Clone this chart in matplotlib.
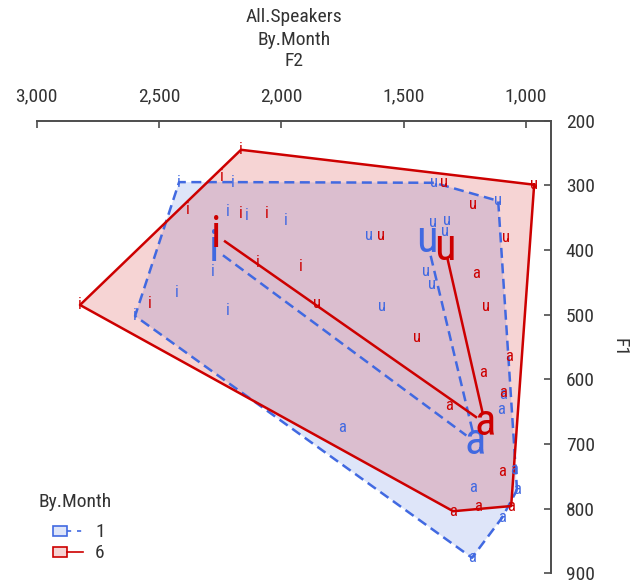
import matplotlib.pyplot as plt
import numpy as np
from matplotlib.patches import Polygon, Rectangle

# fonts: narrow sans like the reference
narrow = ['Roboto Condensed', 'Liberation Sans Narrow', 'Roboto', 'DejaVu Sans']
plt.rcParams['font.family'] = narrow

# ---- data (Hz) ----
vowels = ['i', 'u', 'a']
months = ['1', '6']

# month 1
i1_f2 = [2418, 2198, 2218, 2140, 1981, 2279, 2427, 2598, 2218]
i1_f1 = [295, 295, 341, 346, 355, 434, 466, 502, 494]
u1_f2 = [1376, 1114, 1380, 1323, 1331, 1642, 1409, 1384, 1589]
u1_f1 = [296, 324, 358, 354, 371, 377, 434, 453, 488]
a1_f2 = [1752, 1094, 1102, 1049, 1037, 1217, 1098, 1221]
a1_f1 = [674, 624, 646, 740, 771, 767, 814, 876]
mean1_f2 = [2275, 1405, 1208]
mean1_f1 = [398, 385, 697]

# month 6
i6_f2 = [2165, 2243, 2382, 2165, 2059, 2095, 1920, 2823, 2537]
i6_f1 = [245, 287, 338, 343, 343, 420, 426, 485, 482]
u6_f2 = [1335, 967, 1217, 1593, 1082, 1163, 1446, 1854]
u6_f1 = [296, 299, 329, 378, 381, 487, 535, 482]
a6_f2 = [1204, 1069, 1176, 1094, 1315, 1098, 1061, 1196, 1298]
a6_f1 = [436, 565, 590, 620, 641, 743, 796, 797, 804]
mean6_f2 = [2267, 1331, 1168]
mean6_f1 = [377, 397, 668]

x_ticks = [3000, 2500, 2000, 1500, 1000]
x_labels = ['3,000', '2,500', '2,000', '1,500', '1,000']
y_ticks = [200, 300, 400, 500, 600, 700, 800, 900]

blue = '#4169E1'
red = '#CD0000'
axis_col = '#4d4d4d'


def hull(x, y):
    pts = sorted(set(zip(x, y)))

    def cross(o, a, b):
        return (a[0] - o[0]) * (b[1] - o[1]) - (a[1] - o[1]) * (b[0] - o[0])
    lower, upper = [], []
    for p in pts:
        while len(lower) >= 2 and cross(lower[-2], lower[-1], p) <= 0:
            lower.pop()
        lower.append(p)
    for p in reversed(pts):
        while len(upper) >= 2 and cross(upper[-2], upper[-1], p) <= 0:
            upper.pop()
        upper.append(p)
    return lower[:-1] + upper[:-1]


def trimmed(ax, p0, p1, gap=11):
    d0 = ax.transData.transform(p0)
    d1 = ax.transData.transform(p1)
    v = d1 - d0
    u = v / np.hypot(*v)
    inv = ax.transData.inverted()
    return inv.transform([d0 + u * gap, d1 - u * gap])


fig = plt.figure(figsize=(6.4, 5.83), dpi=100)
ax = fig.add_axes([0.05734, 0.016638, 0.8029, 0.77633])
ax.set_xlim(3000, 900)
ax.set_ylim(900, 200)

for s in ['left', 'bottom']:
    ax.spines[s].set_visible(False)
for s in ['top', 'right']:
    ax.spines[s].set_color(axis_col)
    ax.spines[s].set_linewidth(1.4)
ax.xaxis.tick_top()
ax.yaxis.tick_right()
ax.set_xticks(x_ticks)
ax.set_xticklabels(x_labels)
ax.set_yticks(y_ticks)
ax.tick_params(direction='in', length=5, width=1.2, color=axis_col,
               labelsize=14, labelcolor='#333333', pad=11)

groups = [
    (blue, '--', [(i1_f2, i1_f1), (u1_f2, u1_f1), (a1_f2, a1_f1)], mean1_f2, mean1_f1),
    (red, '-', [(i6_f2, i6_f1), (u6_f2, u6_f1), (a6_f2, a6_f1)], mean6_f2, mean6_f1),
]
lw = 1.8
dash = (4.0, 2.2)

# fills
for col, ls, toks, mf2, mf1 in groups:
    allx = sum([t[0] for t in toks], [])
    ally = sum([t[1] for t in toks], [])
    h = hull(allx, ally)
    ax.add_patch(Polygon(h, closed=True, facecolor=col, alpha=0.17,
                         edgecolor='none', zorder=1))

# hull outlines and mean lines
for col, ls, toks, mf2, mf1 in groups:
    allx = sum([t[0] for t in toks], [])
    ally = sum([t[1] for t in toks], [])
    h = hull(allx, ally)
    hx = [p[0] for p in h] + [h[0][0]]
    hy = [p[1] for p in h] + [h[0][1]]
    line, = ax.plot(hx, hy, color=col, lw=lw, ls=ls, zorder=2)
    if ls == '--':
        line.set_dashes(dash)
    # i -> a -> u
    for k0, k1 in [(0, 2), (2, 1)]:
        seg = trimmed(ax, (mf2[k0], mf1[k0]), (mf2[k1], mf1[k1]))
        l2, = ax.plot(seg[:, 0], seg[:, 1], color=col, lw=lw, ls=ls, zorder=3)
        if ls == '--':
            l2.set_dashes(dash)

# tokens
for col, ls, toks, mf2, mf1 in groups:
    for v, (tx, ty) in zip(vowels, toks):
        for x, y in zip(tx, ty):
            ax.text(x, y, v, color=col, fontsize=12, ha='center', va='center',
                    zorder=4)

# means
for col, ls, toks, mf2, mf1 in groups:
    for v, x, y in zip(vowels, mf2, mf1):
        ax.text(x, y, v, color=col, fontsize=32, ha='center', va='center',
                zorder=5)

# titles
cx = (36.7 + 550.5) / 2 / 640
fig.text(cx, 1 - 17 / 583, 'All.Speakers', ha='center', va='center',
         fontsize=14, color='#333333')
fig.text(cx, 1 - 40 / 583, 'By.Month', ha='center', va='center',
         fontsize=14, color='#333333')
fig.text(cx, 1 - 61 / 583, 'F2', ha='center', va='center',
         fontsize=14, color='#333333')
fig.text(620 / 640, 1 - 347 / 583, 'F1', ha='center', va='center',
         rotation=-90, fontsize=14, color='#333333')

# legend drawn in pixel space
lax = fig.add_axes([0, 0, 1, 1])
lax.set_xlim(0, 640)
lax.set_ylim(583, 0)
lax.axis('off')
lax.text(38, 502, 'By.Month', ha='left', va='center', fontsize=14, color='#333333')
for k, (col, ls, toks, mf2, mf1) in enumerate(groups):
    yy = 531 + 21 * k
    lax.add_patch(Rectangle((53, yy - 5), 14, 10, facecolor=col, alpha=0.17,
                            edgecolor='none'))
    lax.add_patch(Rectangle((53, yy - 5), 14, 10, facecolor='none',
                            edgecolor=col, lw=1.2))
    ll, = lax.plot([67, 83], [yy, yy], color=col, lw=1.2, ls=ls)
    if ls == '--':
        ll.set_dashes((2.5, 3.5))
    lax.text(100, yy + 1, months[k], ha='center', va='center', fontsize=14,
             color='#333333')

fig.savefig('out.png', dpi=100)
